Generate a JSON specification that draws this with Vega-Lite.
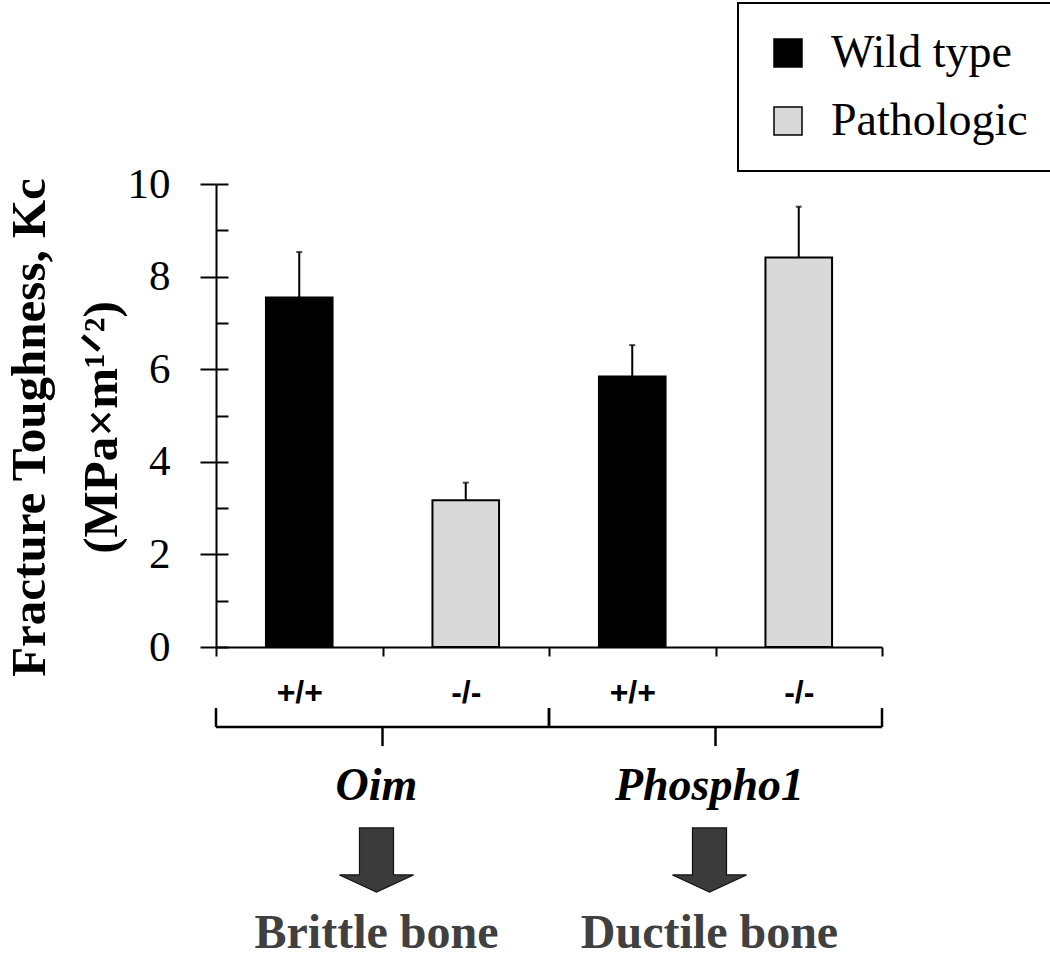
{
  "$schema": "https://vega.github.io/schema/vega-lite/v6.json",
  "autosize": "none",
  "width": 666,
  "height": 463,
  "padding": {"left": 216, "top": 184, "right": 168, "bottom": 313},
  "background": "white",
  "config": {"view": {"stroke": null}, "axis": {"grid": false}},
  "datasets": {
    "bars": [
      {"label": "Oim +/+", "group": "Oim", "type": "Wild type", "value": 7.55, "upper": 8.53},
      {"label": "Oim -/-", "group": "Oim", "type": "Pathologic", "value": 3.17, "upper": 3.55},
      {"label": "Phospho1 +/+", "group": "Phospho1", "type": "Wild type", "value": 5.84, "upper": 6.52},
      {"label": "Phospho1 -/-", "group": "Phospho1", "type": "Pathologic", "value": 8.41, "upper": 9.51}
    ],
    "groups": [
      {"group": "Oim", "outcome": "Brittle bone", "first": "Oim +/+", "last": "Oim -/-"},
      {"group": "Phospho1", "outcome": "Ductile bone", "first": "Phospho1 +/+", "last": "Phospho1 -/-"}
    ]
  },
  "layer": [
    {
      "layer": [
        {
          "data": {"name": "bars"},
          "mark": {"type": "bar", "width": {"band": 0.4}, "stroke": "black", "strokeWidth": 2},
          "encoding": {
            "x": {
              "field": "label", "type": "nominal", "sort": null, "title": null,
              "scale": {"domain": ["Oim +/+", "Oim -/-", "Phospho1 +/+", "Phospho1 -/-"], "paddingInner": 0, "paddingOuter": 0},
              "axis": {
                "tickBand": "extent", "tickSize": 9, "tickWidth": 2, "tickColor": "black",
                "domainColor": "black", "domainWidth": 2,
                "labelExpr": "split(datum.label, ' ')[1]", "labelAngle": 0,
                "labelFont": "Liberation Sans", "labelFontWeight": "bold", "labelFontSize": 32,
                "labelColor": "black", "labelBaseline": "middle", "labelPadding": 36
              }
            },
            "y": {
              "field": "value", "type": "quantitative",
              "scale": {"domain": [0, 10], "nice": false},
              "axis": {
                "values": [0, 2, 4, 6, 8, 10], "tickSize": 16, "tickWidth": 2, "tickColor": "black",
                "domainColor": "black", "domainWidth": 2,
                "labelFont": "Liberation Serif", "labelFontSize": 43, "labelColor": "black", "labelPadding": 30,
                "title": ["Fracture Toughness, Kc", "(MPa×m¹ᐟ²)"],
                "titleFont": "Liberation Serif", "titleFontWeight": "bold", "titleFontSize": 49, "titleColor": "black",
                "titleAngle": 270, "titleAlign": "center", "titleBaseline": "alphabetic",
                "titleX": -172, "titleY": 243, "titleLineHeight": 72
              }
            },
            "color": {
              "field": "type", "type": "nominal",
              "scale": {"domain": ["Wild type", "Pathologic"], "range": ["#000000", "#d9d9d9"]},
              "legend": {
                "orient": "none", "legendX": 522, "legendY": -181, "title": null,
                "strokeColor": "black", "fillColor": "white", "padding": 27,
                "symbolType": "square", "symbolSize": 784, "symbolStrokeColor": "black", "symbolStrokeWidth": 1.5,
                "labelFont": "Liberation Serif", "labelFontSize": 46, "labelColor": "black", "labelOffset": 20,
                "labelLimit": 400, "rowPadding": 22,
                "encode": {"legend": {"update": {"strokeWidth": {"value": 2}}}}
              }
            }
          }
        },
        {
          "data": {"name": "bars"},
          "mark": {"type": "rule", "color": "black", "strokeWidth": 2},
          "encoding": {
            "x": {"field": "label", "type": "nominal", "sort": null, "title": null},
            "y": {"field": "value", "type": "quantitative"},
            "y2": {"field": "upper"}
          }
        },
        {
          "data": {"name": "bars"},
          "mark": {"type": "tick", "color": "black", "size": 6, "thickness": 2, "orient": "horizontal"},
          "encoding": {
            "x": {"field": "label", "type": "nominal", "sort": null, "title": null},
            "y": {"field": "upper", "type": "quantitative"}
          }
        },
        {
          "data": {"name": "groups"},
          "mark": {"type": "rule", "color": "black", "strokeWidth": 2.5},
          "encoding": {
            "x": {"field": "first", "type": "nominal", "bandPosition": 0, "title": null},
            "x2": {"field": "last", "bandPosition": 1},
            "y": {"datum": -1.73, "type": "quantitative"}
          }
        },
        {
          "data": {"name": "groups"},
          "mark": {"type": "rule", "color": "black", "strokeWidth": 2.5},
          "encoding": {
            "x": {"field": "first", "type": "nominal", "bandPosition": 0, "title": null},
            "y": {"datum": -1.32, "type": "quantitative"},
            "y2": {"datum": -1.73}
          }
        },
        {
          "data": {"name": "groups"},
          "mark": {"type": "rule", "color": "black", "strokeWidth": 2.5},
          "encoding": {
            "x": {"field": "last", "type": "nominal", "bandPosition": 1, "title": null},
            "y": {"datum": -1.32, "type": "quantitative"},
            "y2": {"datum": -1.73}
          }
        },
        {
          "data": {"name": "groups"},
          "mark": {"type": "rule", "color": "black", "strokeWidth": 2.5},
          "encoding": {
            "x": {"field": "last", "type": "nominal", "bandPosition": 0, "title": null},
            "y": {"datum": -1.73, "type": "quantitative"},
            "y2": {"datum": -2.14}
          }
        },
        {
          "data": {"name": "groups"},
          "mark": {"type": "text", "font": "Liberation Serif", "fontStyle": "italic", "fontWeight": "bold", "fontSize": 46, "color": "black", "align": "center", "baseline": "alphabetic", "dx": -6},
          "encoding": {
            "x": {"field": "last", "type": "nominal", "bandPosition": 0, "title": null},
            "y": {"datum": -3.3, "type": "quantitative"},
            "text": {"field": "group"}
          }
        },
        {
          "data": {"name": "groups"},
          "mark": {"type": "point", "filled": true, "opacity": 1, "fill": "#3b3b3b", "stroke": "#111111", "strokeWidth": 1.2, "size": 5476,
            "shape": "M -0.46 -0.865 L 0.46 -0.865 L 0.46 0.405 L 1 0.405 L 0 0.865 L -1 0.405 L -0.46 0.405 Z", "xOffset": -6},
          "encoding": {
            "x": {"field": "last", "type": "nominal", "bandPosition": 0, "title": null},
            "y": {"datum": -4.6, "type": "quantitative"}
          }
        },
        {
          "data": {"name": "groups"},
          "mark": {"type": "text", "font": "Liberation Serif", "fontWeight": "bold", "fontSize": 48, "color": "#404040", "align": "center", "baseline": "alphabetic", "dx": -6},
          "encoding": {
            "x": {"field": "last", "type": "nominal", "bandPosition": 0, "title": null},
            "y": {"datum": -6.5, "type": "quantitative"},
            "text": {"field": "outcome"}
          }
        }
      ]
    },
    {
      "data": {"name": "bars"},
      "mark": {"type": "point", "opacity": 0},
      "encoding": {
        "y": {
          "field": "value", "type": "quantitative",
          "scale": {"domain": [0, 10], "nice": false},
          "axis": {
            "orient": "left", "values": [0, 1, 2, 3, 4, 5, 6, 7, 8, 9, 10], "tickSize": -12, "tickWidth": 2, "tickColor": "black",
            "labels": false, "domain": false, "title": null
          }
        }
      }
    }
  ],
  "resolve": {"axis": {"y": "independent"}}
}
